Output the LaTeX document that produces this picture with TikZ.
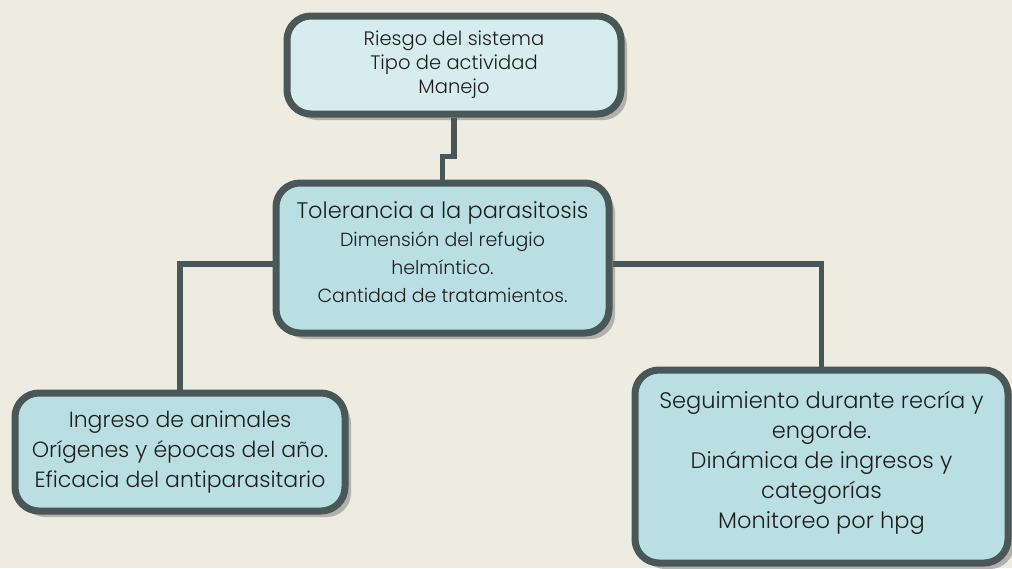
\documentclass[tikz,border=0pt]{standalone}
\usepackage{fontspec}
\setmainfont{Poppins}[UprightFont=* Light]
\usetikzlibrary{shadows, calc, backgrounds}
\definecolor{pagecream}{HTML}{EEEBE1}
\definecolor{frameslate}{HTML}{4A5759}
\definecolor{boxpale}{HTML}{D7ECEF}
\definecolor{boxaqua}{HTML}{B9DFE3}
\definecolor{shadowgray}{HTML}{B3B1AB}
\definecolor{inkdark}{HTML}{1E1E1E}

\tikzset{
  cardbox/.style={draw=frameslate, line width=7pt, rounded corners=24pt, align=center, text=inkdark, inner sep=0pt,
    drop shadow={shadow xshift=6pt, shadow yshift=-6pt, fill=shadowgray, opacity=1}},
  link/.style={draw=frameslate, line width=5.5pt},
}

\begin{document}
\begin{tikzpicture}[x=1pt, y=-1pt]
  % Page background
  \fill[pagecream] (0,0) rectangle (1012,568);
  \useasboundingbox (0,0) rectangle (1012,568);

  % Boxes
  \node[cardbox, fill=boxpale, minimum width=334pt, minimum height=98pt, font=\fontsize{19.5}{24}\selectfont] (system) at (454,65)
    {Riesgo del sistema\\Tipo de actividad\\Manejo};
  \node[cardbox, fill=boxaqua, minimum width=333pt, minimum height=150pt, font=\fontsize{19}{28}\selectfont] (tolerance) at (442.5,258)
    {{\fontsize{22.5}{28}\selectfont Tolerancia a la parasitosis}\\Dimensión del refugio\\helmíntico.\\Cantidad de tratamientos.\\[-16pt]\mbox{}};
  \node[cardbox, fill=boxaqua, minimum width=330pt, minimum height=118pt, font=\fontsize{22}{30}\selectfont] (intake) at (180,452)
    {Ingreso de animales\\Orígenes y épocas del año.\\Eficacia del antiparasitario};
  \node[cardbox, fill=boxaqua, minimum width=373pt, minimum height=193pt, font=\fontsize{22.5}{30}\selectfont] (tracking) at (821.5,466.5)
    {Seguimiento durante recría y\\engorde.\\Dinámica de ingresos y\\categorías\\Monitoreo por hpg\\[-16pt]\mbox{}};

  % Connectors
  \draw[link] (system.south) -- ++(0,39) -| (tolerance.north);
  \draw[link] ([yshift=-6pt]tolerance.west) -| (intake.north);
  \draw[link] ([yshift=-6pt]tolerance.east) -| (tracking.north);
\end{tikzpicture}
\end{document}
